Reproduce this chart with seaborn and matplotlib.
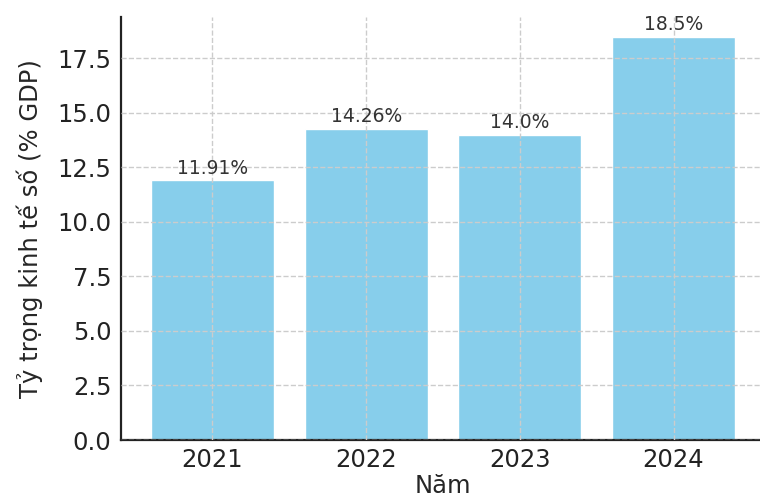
import matplotlib
matplotlib.use("Agg")
import matplotlib.pyplot as plt
import seaborn as sns
import pandas as pd

years = ["2021", "2022", "2023", "2024"]
values = [11.91, 14.26, 14.0, 18.5]
labels = ["11.91%", "14.26%", "14.0%", "18.5%"]

sns.set_style("white")
plt.rcParams['font.family'] = ['DejaVu Sans']

fig = plt.figure(figsize=(7.6, 4.97), dpi=100)
ax = fig.add_axes([121/760, 57/497, 644/760, 423.5/497])

df = pd.DataFrame({"Năm": years, "val": values})
sns.barplot(data=df, x="Năm", y="val", color="#87CEEB", saturation=1, width=0.8, ax=ax)

ax.set_xlim(-0.595, 3.595)
ax.set_ylim(0, 19.425)
ax.set_yticks([0, 2.5, 5, 7.5, 10, 12.5, 15, 17.5])
ax.set_axisbelow(False)
ax.grid(True, linestyle="--", color="#cccccc", linewidth=1)

for i, (v, lab) in enumerate(zip(values, labels)):
    ax.text(i, v + 0.12, lab, ha="center", va="bottom", fontsize=13.5, color="#333333")

ax.set_xlabel("Năm", fontsize=17.5, labelpad=1.5)
ax.set_ylabel("Tỷ trọng kinh tế số (% GDP)", fontsize=17.5, labelpad=10)
ax.tick_params(axis="both", direction="in", length=4, width=1.2, labelsize=17.5, colors="#222222")
ax.tick_params(axis="y", pad=7)
ax.tick_params(axis="x", pad=6)
for s in ["top", "right"]:
    ax.spines[s].set_visible(False)
for s in ["left", "bottom"]:
    ax.spines[s].set_color("#222222")
    ax.spines[s].set_linewidth(1.6)

fig.savefig("out.png", dpi=100)
